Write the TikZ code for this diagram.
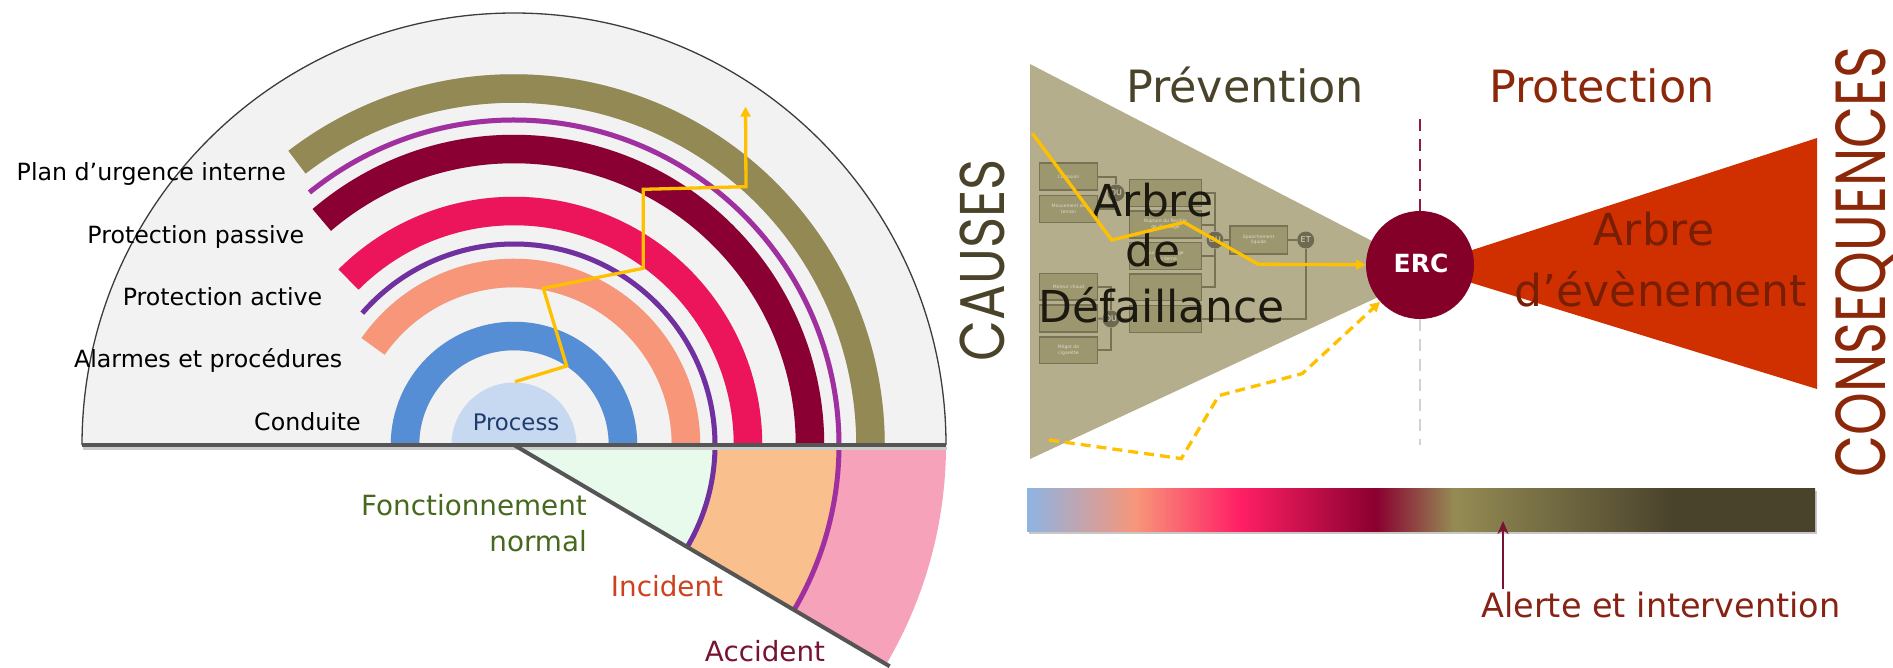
\documentclass[tikz,border=0pt]{standalone}
\usepackage{fontspec}
\setmainfont{DejaVu Sans}
\newfontfamily\geo{Poppins}
\usetikzlibrary{arrows.meta}
\definecolor{discgrey}{RGB}{242,242,242}
\definecolor{discline}{RGB}{60,60,60}
\definecolor{basecol}{RGB}{85,85,85}
\definecolor{wmint}{RGB}{232,250,236}
\definecolor{wpeach}{RGB}{249,192,142}
\definecolor{wpink}{RGB}{245,162,186}
\definecolor{bluec}{RGB}{85,142,213}
\definecolor{salmonc}{RGB}{248,150,121}
\definecolor{purplec}{RGB}{112,48,160}
\definecolor{pinkc}{RGB}{236,20,90}
\definecolor{darkredc}{RGB}{138,0,50}
\definecolor{magentac}{RGB}{160,48,160}
\definecolor{olivec}{RGB}{146,137,84}
\definecolor{procblue}{RGB}{198,217,241}
\definecolor{proctext}{RGB}{31,60,110}
\definecolor{yellowc}{RGB}{255,192,0}
\definecolor{greentext}{RGB}{70,105,30}
\definecolor{incidentc}{RGB}{205,65,30}
\definecolor{accidentc}{RGB}{120,20,50}
\definecolor{trioliv}{RGB}{180,174,140}
\definecolor{causec}{RGB}{73,68,41}
\definecolor{consc}{RGB}{140,40,10}
\definecolor{ercc}{RGB}{133,0,40}
\definecolor{orangec}{RGB}{208,48,0}
\definecolor{arbreD}{RGB}{28,26,16}
\definecolor{arbreE}{RGB}{120,30,5}
\definecolor{ftfill}{RGB}{157,151,112}
\definecolor{ftline}{RGB}{120,115,85}
\definecolor{ftgate}{RGB}{110,106,82}
\definecolor{fttext}{RGB}{222,218,200}
\definecolor{dashred}{RGB}{140,30,60}
\definecolor{alertc}{RGB}{135,35,20}
\definecolor{gba}{RGB}{142,180,227}
\definecolor{gbb}{RGB}{247,150,121}
\definecolor{gbc}{RGB}{255,31,101}
\definecolor{gbd}{RGB}{138,0,48}
\definecolor{gbe}{RGB}{148,139,84}
\definecolor{gbf}{RGB}{74,67,44}
\pgfdeclarehorizontalshading{riskbar}{100bp}{color(0bp)=(gba); color(25bp)=(gba); color(31.9bp)=(gbb); color(38.5bp)=(gbc); color(47.15bp)=(gbd); color(52.1bp)=(gbe); color(66bp)=(gbf); color(75bp)=(gbf); color(100bp)=(gbf)}
\pgfdeclarelayer{back}
\pgfdeclarelayer{bg}
\pgfsetlayers{back,bg,main}
\tikzset{
  band/.style={line width=28.5pt},
  thinarc/.style={line width=5pt},
  shad/.style={draw=black, draw opacity=0.13, shift={(1.5,-2.5)}},
  lbl/.style={font=\fontsize{23.7}{28}\selectfont, inner sep=0pt, anchor=base east},
  lowlbl/.style={font=\fontsize{27.8}{32}\selectfont, inner sep=0pt, anchor=base},
  ftbox/.style={draw=ftline, fill=ftfill, line width=1.5pt, inner sep=1pt, font=\fontsize{4.5}{5.5}\selectfont, text=fttext, align=center},
  gate/.style={circle, fill=ftgate, minimum size=17pt, inner sep=0pt, font=\fontsize{8}{8}\selectfont, text=fttext},
  ftconn/.style={draw=ftline, line width=2pt},
  yel/.style={draw=yellowc, line width=3.3pt},
  bigtxt/.style={font=\fontsize{44}{50}\selectfont, inner sep=0pt, anchor=base},
}
\begin{document}
\begin{tikzpicture}[x=1pt,y=1pt]
\useasboundingbox (0,0) rectangle (1893,-667);
% ================= LEFT PANEL =================
\coordinate (C) at (514,-445);
\fill[discgrey] (C) ++(180:432) arc[start angle=180,end angle=0,radius=432] -- cycle;
\draw[line width=1.3pt, discline] (C) ++(180:432) arc[start angle=180,end angle=0,radius=432];
% lower wedge
\fill[wpink] (C) -- ++(0:432) arc[start angle=0,end angle=-30.5,radius=432] -- cycle;
\fill[wpeach] (C) -- ++(0:325) arc[start angle=0,end angle=-30.5,radius=325] -- cycle;
\fill[wmint] (C) -- ++(0:201) arc[start angle=0,end angle=-30.5,radius=201] -- cycle;
% process
\fill[procblue] (C) ++(180:62.5) arc[start angle=180,end angle=0,radius=62.5] -- cycle;
% band shadows
\begin{scope}[shad]
\draw[band] (C) ++(180:109) arc[start angle=180,end angle=0,radius=109];
\draw[band] (C) ++(145:172) arc[start angle=145,end angle=0,radius=172];
\draw[thinarc] (C) ++(139:201) arc[start angle=139,end angle=0,radius=201];
\draw[band] (C) ++(135:234) arc[start angle=135,end angle=0,radius=234];
\draw[band] (C) ++(130.5:296) arc[start angle=130.5,end angle=0,radius=296];
\draw[thinarc] (C) ++(129:325) arc[start angle=129,end angle=0,radius=325];
\draw[band] (C) ++(127.5:356.5) arc[start angle=127.5,end angle=0,radius=356.5];
\end{scope}
% bands
\draw[band, bluec] (C) ++(180:109) arc[start angle=180,end angle=0,radius=109];
\draw[band, salmonc] (C) ++(145:172) arc[start angle=145,end angle=0,radius=172];
\draw[thinarc, purplec] (C) ++(139:201) arc[start angle=139,end angle=-30.5,radius=201];
\draw[band, pinkc] (C) ++(135:234) arc[start angle=135,end angle=0,radius=234];
\draw[band, darkredc] (C) ++(130.5:296) arc[start angle=130.5,end angle=0,radius=296];
\draw[thinarc, magentac] (C) ++(129:325) arc[start angle=129,end angle=-30.5,radius=325];
\draw[band, olivec] (C) ++(127.5:356.5) arc[start angle=127.5,end angle=0,radius=356.5];
% base lines
\coordinate (bl) at (82,-445);
\coordinate (br) at (946,-445);
\draw[line width=3pt, black!20] (bl) ++(1,-3) -- ++(864,0);
\draw[line width=4pt, basecol] (bl) -- (br);
\draw[line width=4pt, basecol] (C) -- ++(-30.5:436);
% yellow path
\coordinate (ys) at (515,-381.7);
\coordinate (ye) at (745.5,-106.7);
\draw[yel, -{Triangle[length=10pt,width=10pt]}] (ys) -- (566.7,-366) -- (543.3,-288.3) -- (643.3,-268.3) -- (643.3,-189.3) -- (746,-186.7) -- (ye);
% labels
\node[lbl] (l1) at (286,-180) {Plan d’urgence interne};
\node[lbl] (l2) at (304.5,-243.3) {Protection passive};
\node[lbl] (l3) at (322.5,-305) {Protection active};
\node[lbl] (l4) at (342.5,-367.7) {Alarmes et procédures};
\node[lbl] (l5) at (361,-430) {Conduite};
\node[lbl, anchor=base, font=\fontsize{22.8}{28}\selectfont, text=proctext] (l6) at (516,-430) {Process};
\node[lowlbl, anchor=base east, text=greentext] (f1) at (587,-515) {Fonctionnement};
\node[lowlbl, anchor=base east, text=greentext] (f2) at (587,-551.7) {normal};
\node[lowlbl, text=incidentc] (inc) at (667,-596.7) {Incident};
\node[lowlbl, text=accidentc] (acc) at (765,-661.7) {Accident};
% ================= RIGHT PANEL =================
\begin{pgfonlayer}{back}
\fill[trioliv] (1030,-64) -- (1432,-272) -- (1030,-459) -- cycle;
\end{pgfonlayer}
% fault tree boxes
\node[ftbox, minimum width=58.4pt, minimum height=26.7pt] (b1) at (1068.5,-176.5) {Corrosion};
\node[ftbox, minimum width=58.4pt, minimum height=26.7pt] (b2) at (1068.5,-209) {Mouvement de\\terrain};
\node[ftbox, minimum width=72.4pt, minimum height=26.7pt] (b3) at (1165.5,-193) {};
\node[ftbox, minimum width=72.4pt, minimum height=26.7pt] (b4) at (1165.5,-224.5) {Rupture du flexible\\de dépotage};
\node[ftbox, minimum width=72.4pt, minimum height=26.7pt] (b5) at (1165.5,-256) {Sur-remplissage\\de citerne};
\node[ftbox, minimum width=72.4pt, minimum height=26.7pt] (b6) at (1165.5,-287.3) {};
\node[ftbox, minimum width=72.4pt, minimum height=26.7pt] (b7) at (1165.5,-319) {};
\node[ftbox, minimum width=58.4pt, minimum height=26.7pt] (b8) at (1068.5,-286.7) {Moteur chaud};
\node[ftbox, minimum width=58.4pt, minimum height=26.7pt] (b9) at (1068.5,-318.5) {};
\node[ftbox, minimum width=58.4pt, minimum height=26.7pt] (b10) at (1068.5,-350.3) {Mégot de\\cigarette};
\node[ftbox, minimum width=57.3pt, minimum height=28pt] (b11) at (1258.7,-240) {Epanchement\\liquide};
\node[gate] (g1) at (1116,-193) {OU};
\node[gate] (g2) at (1215,-240) {OU};
\node[gate] (g3) at (1305.7,-240) {ET};
\node[gate] (g4) at (1111,-319) {OU};
\begin{pgfonlayer}{bg}
\draw[ftconn] (b1.east) -| (g1);
\draw[ftconn] (b2.east) -| (g1);
\draw[ftconn] (g1) -- (b3.west);
\draw[ftconn] (b3.east) -| (g2);
\draw[ftconn] (b4.east) -| (g2);
\draw[ftconn] (b5.east) -| (g2);
\draw[ftconn] (b6.east) -| (g2);
\draw[ftconn] (g2) -- (b11);
\draw[ftconn] (b11) -- (g3);
\draw[ftconn] (g3) |- (b7.east);
\draw[ftconn] (b8.east) -| (g4);
\draw[ftconn] (b9.east) -- (g4);
\draw[ftconn] (b10.east) -| (g4);
\draw[ftconn] (g4) -- (b7.west);
\end{pgfonlayer}
% arbre de defaillance text
\node[bigtxt, text=arbreD] (ad1) at (1153,-216) {Arbre};
\node[bigtxt, text=arbreD] (ad2) at (1153,-266) {de};
\node[bigtxt, text=arbreD] (ad3) at (1161.5,-322) {Défaillance};
% event tree
\fill[orangec] (1420,-267) -- (1817,-138) -- (1817,-389) -- cycle;
\node[bigtxt, text=arbreE] (ae1) at (1654,-245) {Arbre};
\node[bigtxt, text=arbreE] (ae2) at (1661,-306) {d’évènement};
% ERC
\coordinate (dtop) at (1420,-119);
\coordinate (dbot) at (1420,-445);
\node[circle, fill=ercc, minimum size=108pt, inner sep=0pt] (erc) at (1420,-265) {};
\node[inner sep=0pt, anchor=base, text=white, font=\bfseries\fontsize{25}{30}\selectfont] (erct) at (1421,-272) {ERC};
\draw[dashred, line width=2.5pt, dash pattern=on 12pt off 8pt] (dtop) -- (erc.north);
\draw[black!18, line width=1.5pt, dash pattern=on 12pt off 8pt] (erc.south) -- (dbot);
% yellow arrows
\coordinate (ya) at (1032.3,-133.3);
\draw[yel, -{Triangle[length=10pt,width=10pt]}] (ya) -- (1111.7,-240) -- (1184,-222.3) -- (1258.3,-264.3) -- (erc);
\coordinate (yb) at (1049,-440);
\draw[yel, dash pattern=on 10pt off 6pt, -{Triangle[length=10pt,width=10pt]}] (yb) -- (1181.3,-458.6) -- (1218.8,-395.6) -- (1302.3,-373.6) -- (erc);
% headings
\node[font=\fontsize{44.5}{50}\selectfont, inner sep=0pt, anchor=base, text=causec] (prev) at (1245,-102) {Prévention};
\node[font=\fontsize{44.5}{50}\selectfont, inner sep=0pt, anchor=base, text=consc] (prot) at (1602,-102) {Protection};
\node[rotate=90, inner sep=0pt, text=causec] (causes) at (982,-260) {\resizebox{202pt}{44.6pt}{\geo CAUSES}};
\node[rotate=90, inner sep=0pt, text=consc] (cons) at (1860,-262) {\resizebox{430pt}{50pt}{\raisebox{0pt}[\height][0pt]{\geo CONSEQUENCES}}};
% gradient bar
\fill[black!22] (1029,-491) rectangle (1817,-534);
\shade[shading=riskbar] (1027,-488.5) rectangle (1815,-531);
% alert arrow
\coordinate (as) at (1503,-589);
\coordinate (ae) at (1503,-521);
\draw[accidentc, line width=2.5pt, -{Stealth[length=13pt,width=11pt]}] (as) -- (ae);
\node[font=\fontsize{33.5}{36}\selectfont, inner sep=0pt, anchor=base, text=alertc] (alert) at (1661,-617) {Alerte et intervention};
\end{tikzpicture}
\end{document}
